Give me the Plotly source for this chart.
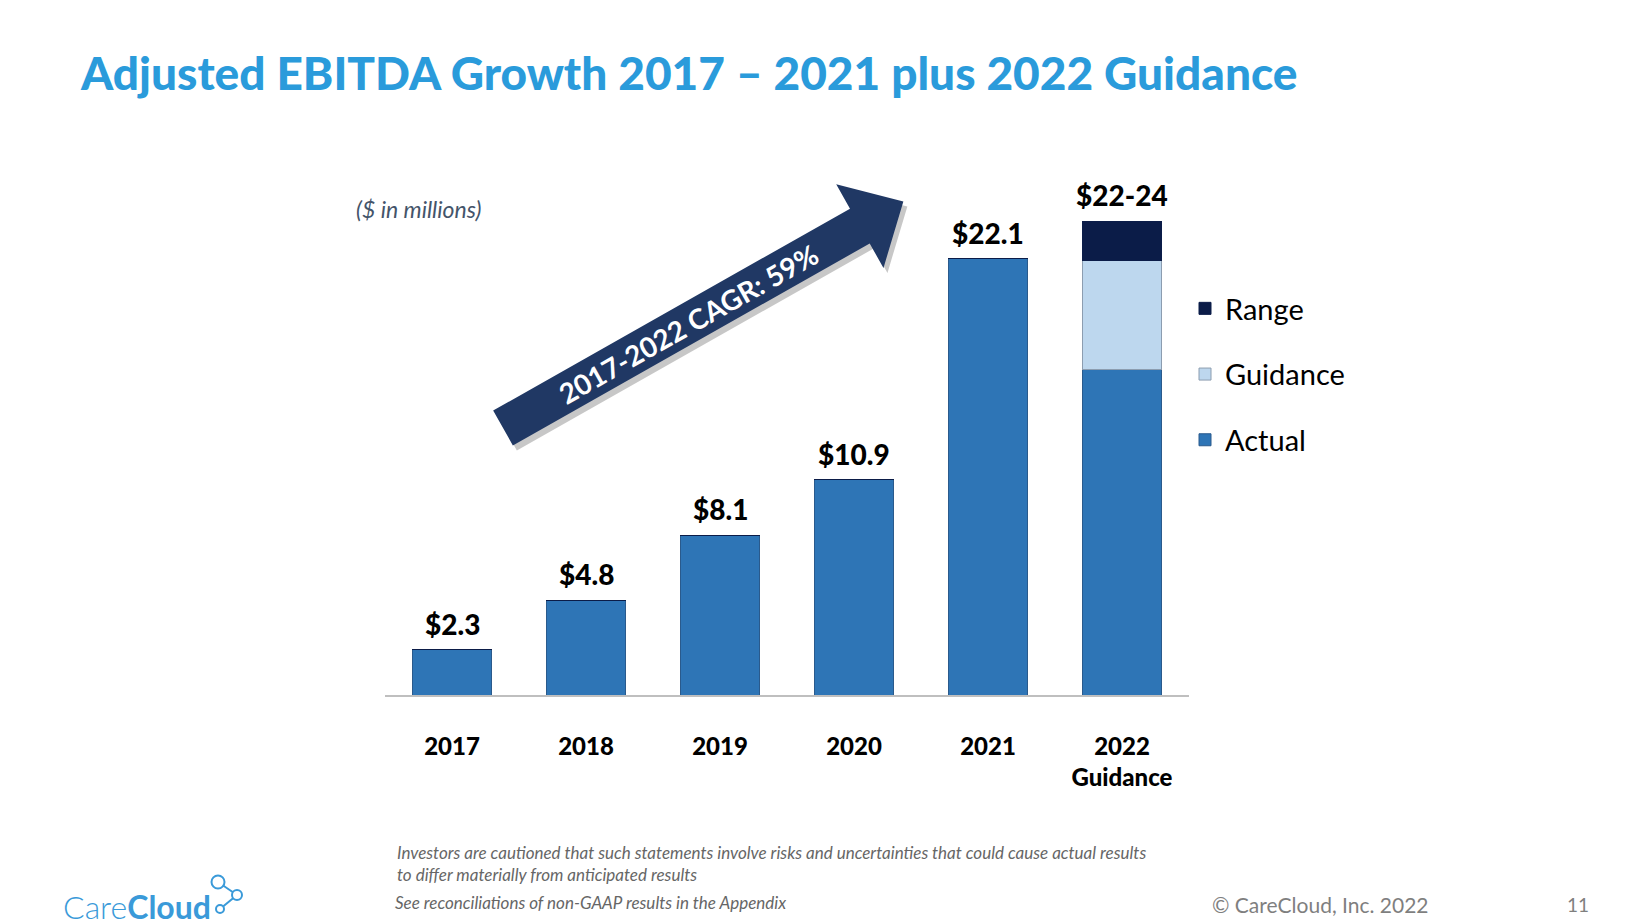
import math
import plotly.graph_objects as go

# data ($ in millions)
years = ["2017", "2018", "2019", "2020", "2021", "2022<br>Guidance"]
actual = [2.3, 4.8, 8.1, 10.9, 22.1, 16.5]
guidance = [0, 0, 0, 0, 0, 5.5]
range_ = [0, 0, 0, 0, 0, 2.0]
value_labels = ["$2.3", "$4.8", "$8.1", "$10.9", "$22.1", "$22-24"]

W, H = 1644, 924
L, R, T, B = 377, 463, 174, 237
YMAX = 26

FONT = "Lato"
BLUE = "#2E75B6"
LIGHT = "#BDD7EE"
NAVY = "#0B1C48"
ARROW = "#203864"


def px(x):
    return (x - L) / (W - L - R)


def py(y):
    return (H - B - y) / (H - T - B)


def note(x, y, text, size, color, xanchor="left", **kw):
    fig.add_annotation(x=px(x), y=py(y), xref="paper", yref="paper", text=text,
                       showarrow=False, xanchor=xanchor, yanchor="middle", align="left",
                       font=dict(family=FONT, size=size, color=color, **kw))


fig = go.Figure()
fig.add_trace(go.Bar(x=years, y=actual, name="Actual", legendgroup="a", legendrank=3,
                     marker=dict(color=BLUE, line=dict(color="#2A5A8C", width=1))))
fig.add_trace(go.Bar(x=years, y=guidance, name="Guidance", legendgroup="g", legendrank=2,
                     marker=dict(color=LIGHT, line=dict(color="#8C9DB0", width=1))))
fig.add_trace(go.Bar(x=years, y=range_, name="Range", legendgroup="r", legendrank=1,
                     marker=dict(color=NAVY, line=dict(color=NAVY, width=1))))

totals = [a + g + r for a, g, r in zip(actual, guidance, range_)]
for i, (t, lab) in enumerate(zip(totals, value_labels)):
    fig.add_annotation(x=i, y=t, text=lab, showarrow=False,
                       xanchor="center", yanchor="bottom", yshift=7,
                       font=dict(family=FONT, size=28, color="black", weight=900))

# CAGR arrow
cx, cy = 495, 420
ang = math.radians(29.5)
d = (math.cos(ang), -math.sin(ang))
n = (math.sin(ang), math.cos(ang))
length, hw, head_w, head_l = 460, 20, 48, 50


def pt(a, b):
    return (cx + d[0] * a + n[0] * b, cy + d[1] * a + n[1] * b)


pts = [pt(0, -hw), pt(length - head_l, -hw), pt(length - head_l, -head_w),
       pt(length, 0), pt(length - head_l, head_w), pt(length - head_l, hw), pt(0, hw)]


def path(points, dx=0, dy=0):
    s = "M " + " L ".join("%f,%f" % (px(x + dx), py(y + dy)) for x, y in points)
    return s + " Z"


fig.add_shape(type="path", path=path(pts, 4, 5), xref="paper", yref="paper",
              fillcolor="rgba(0,0,0,0.22)", line=dict(width=0), layer="below")
fig.add_shape(type="path", path=path(pts), xref="paper", yref="paper",
              fillcolor=ARROW, line=dict(width=0), layer="below")
tx, ty = pt(212, 0)
fig.add_annotation(x=px(tx), y=py(ty), xref="paper", yref="paper",
                   text="2017-2022 CAGR: 59%", showarrow=False, textangle=-29.5,
                   xanchor="center", yanchor="middle",
                   font=dict(family=FONT, size=28, color="white", weight="bold"))

note(346, 201, "<i>($ in millions)</i>", 23, "#44546A")

# footer
note(387, 855, "<i>Investors are cautioned that such statements involve risks and uncertainties that could cause actual results"
     "<br>to differ materially from anticipated results</i>", 17, "#666666")
note(385, 894, "<i>See reconciliations of non-GAAP results in the Appendix</i>", 17, "#666666")
note(1202, 896, "© CareCloud, Inc. 2022", 21, "#7F7F7F")
note(1570, 896, "11", 19, "#7F7F7F", xanchor="center")

# logo
LOGO = "#3A9AD9"
note(53, 898, "<span style='font-weight:300'>Care</span><b>Cloud</b>", 32, LOGO)
for (x0, y0), (x1, y1) in [((210, 874), (229, 887)), ((229, 887), (212, 901))]:
    fig.add_shape(type="line", xref="paper", yref="paper",
                  x0=px(x0), y0=py(y0), x1=px(x1), y1=py(y1),
                  line=dict(color=LOGO, width=2))
for x, y, r in [(210, 874, 6.5), (229, 887, 5), (212, 901, 4)]:
    fig.add_shape(type="circle", xref="paper", yref="paper",
                  x0=px(x - r), x1=px(x + r), y0=py(y + r), y1=py(y - r),
                  fillcolor="white", line=dict(color=LOGO, width=2))

fig.update_layout(
    width=W, height=H,
    margin=dict(l=L, r=R, t=T, b=B),
    paper_bgcolor="white", plot_bgcolor="white",
    barmode="stack", bargap=0.41,
    title=dict(text="Adjusted EBITDA Growth 2017 – 2021 plus 2022 Guidance",
               x=73 / W, y=1 - 66 / H, xref="container", yref="container",
               xanchor="left", yanchor="middle",
               font=dict(family=FONT, size=46, color="#2A9BDB", weight=900)),
    legend=dict(x=px(1177), y=py(275), xanchor="left", yanchor="top",
                traceorder="grouped", tracegroupgap=25,
                font=dict(family=FONT, size=29, color="black"),
                itemwidth=30),
    xaxis=dict(type="category", showline=True, linecolor="#BFBFBF", linewidth=2,
               showgrid=False, ticks="", ticklabelstandoff=29, range=[-0.5, 5.5],
               tickfont=dict(family=FONT, size=24, color="black", weight=900)),
    yaxis=dict(visible=False, range=[0, YMAX]),
)

fig.write_html("out.html")
